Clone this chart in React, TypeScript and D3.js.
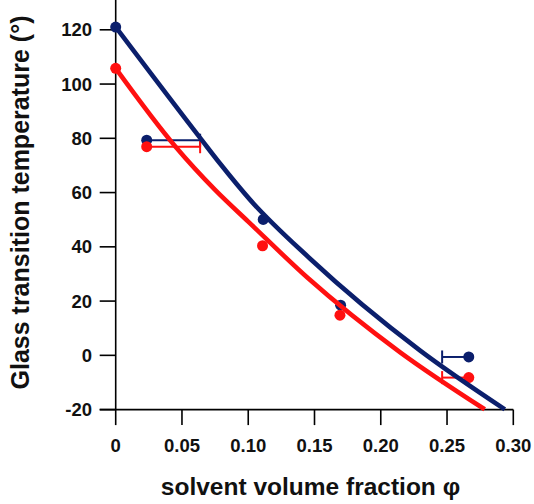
import React from "react";
import * as d3 from "d3";

const xTicks = [0, 0.05, 0.1, 0.15, 0.2, 0.25, 0.3];
const xTickLabels = ["0", "0.05", "0.10", "0.15", "0.20", "0.25", "0.30"];
const yTicks = [-20, 0, 20, 40, 60, 80, 100, 120];

const blueCurveX = [0, 0.065, 0.0787, 0.1013, 0.1465, 0.2295, 0.2936];
const blueCurveY = [121, 79.3, 70.7, 57.4, 35.7, 1.85, -19.9];
const redCurveX = [0, 0.045, 0.075, 0.1, 0.145, 0.2144, 0.2784];
const redCurveY = [105.8, 77, 61, 49.3, 28.5, 1.2, -19.9];

const blueX = [0, 0.0234, 0.1113, 0.1697, 0.2664];
const blueY = [121, 79.3, 50.1, 18.5, -0.6];
const redX = [0, 0.0234, 0.1108, 0.1692, 0.2664];
const redY = [105.8, 76.9, 40.4, 14.8, -8.2];

// horizontal error bars: [pointIndex, xLow, xHigh]
const blueErr = [
  [1, 0.0234, 0.0637],
  [4, 0.2463, 0.2664],
];
const redErr = [
  [1, 0.0234, 0.0637],
  [4, 0.2463, 0.2664],
];

const BLUE = "#0b1f6c";
const RED = "#ff1010";
const FONT = "'Liberation Sans', Arial, sans-serif";

export default function App() {
  const W = 534;
  const H = 504;
  const x = d3.scaleLinear().domain([0, 0.3]).range([115.7, 513.3]);
  const y = d3.scaleLinear().domain([-20, 120]).range([409.6, 29.8]);
  const yTop = y.invert(0);

  const line = d3
    .line<[number, number]>()
    .x((d) => x(d[0]))
    .y((d) => y(d[1]))
    .curve(d3.curveMonotoneX);

  const bluePts = blueCurveX.map((v, i) => [v, blueCurveY[i]] as [number, number]);
  const redPts = redCurveX.map((v, i) => [v, redCurveY[i]] as [number, number]);

  const errBars = (errs: number[][], ys: number[], color: string, key: string) =>
    errs.map(([i, lo, hi], k) => {
      const yy = y(ys[i]);
      const capX = x(lo) === x(blueX[i]) ? x(hi) : x(lo);
      return (
        <g key={key + k}>
          <line x1={x(lo)} x2={x(hi)} y1={yy} y2={yy} stroke={color} strokeWidth={2} />
          <line x1={capX} x2={capX} y1={yy - 6.5} y2={yy + 6.5} stroke={color} strokeWidth={2} />
        </g>
      );
    });

  return (
    <svg
      width={W}
      height={H}
      style={{ position: "absolute", left: 0, top: 0, background: "#fff" }}
      fontFamily={FONT}
    >
      {/* axes */}
      <line x1={x(0)} x2={x(0)} y1={y(yTop)} y2={y(-20)} stroke="#000" strokeWidth={1.6} />
      <line x1={x(0) - 16} x2={x(0.3)} y1={y(-20)} y2={y(-20)} stroke="#000" strokeWidth={1.6} />
      {yTicks.map((t) => (
        <g key={"yt" + t}>
          <line x1={x(0) - 16} x2={x(0)} y1={y(t)} y2={y(t)} stroke="#000" strokeWidth={1.6} />
          <text
            x={92}
            y={y(t)}
            textAnchor="end"
            dominantBaseline="central"
            fontSize={18.5}
            fontWeight="bold"
            fill="#111"
          >
            {t}
          </text>
        </g>
      ))}
      {xTicks.map((t, i) => (
        <g key={"xt" + t}>
          <line x1={x(t)} x2={x(t)} y1={y(-20)} y2={y(-20) + 15.5} stroke="#000" strokeWidth={1.6} />
          <text x={x(t)} y={451.7} textAnchor="middle" fontSize={18.5} fontWeight="bold" fill="#111">
            {xTickLabels[i]}
          </text>
        </g>
      ))}
      <text x={310.5} y={495} textAnchor="middle" fontSize={24.5} fontWeight="bold" fill="#111">
        solvent volume fraction φ
      </text>
      <text
        transform={`translate(29,202.5) rotate(-90)`}
        textAnchor="middle"
        fontSize={25}
        fontWeight="bold"
        fill="#111"
      >
        Glass transition temperature (°)
      </text>

      {/* error bars */}
      {errBars(blueErr, blueY, BLUE, "be")}
      {errBars(redErr, redY, RED, "re")}

      {/* points */}
      {blueX.map((v, i) => (
        <circle key={"bp" + i} cx={x(v)} cy={y(blueY[i])} r={5.5} fill={BLUE} />
      ))}
      {redX.map((v, i) => (
        <circle key={"rp" + i} cx={x(v)} cy={y(redY[i])} r={5.5} fill={RED} />
      ))}

      {/* curves */}
      <path d={line(bluePts) || ""} fill="none" stroke={BLUE} strokeWidth={4.6} />
      <path d={line(redPts) || ""} fill="none" stroke={RED} strokeWidth={4.6} />
    </svg>
  );
}
